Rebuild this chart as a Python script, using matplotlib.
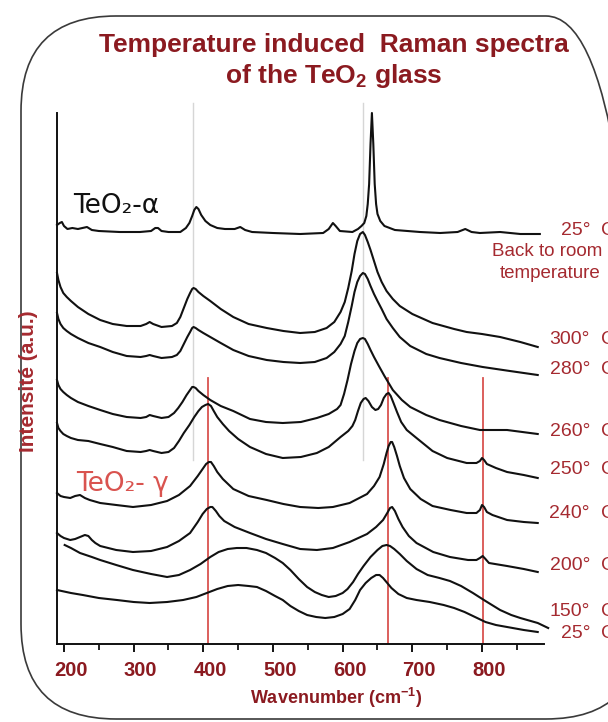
import matplotlib
matplotlib.use("Agg")
import matplotlib.pyplot as plt
from matplotlib.patches import FancyBboxPatch
from matplotlib.ticker import MultipleLocator
from matplotlib.transforms import IdentityTransform, ScaledTranslation

plt.rcParams["font.family"] = ["Liberation Sans", "DejaVu Sans"]
plt.rcParams["mathtext.fontset"] = "custom"
plt.rcParams["mathtext.rm"] = "Liberation Sans"
plt.rcParams["mathtext.bf"] = "Liberation Sans:bold"

# ---------------------------------------------------------------- data
# Raman spectra, stacked: wavenumber (cm-1) and intensity (a.u., offset included)
wn_25_back = [190, 194, 197, 200, 205, 212, 220, 233, 240, 250, 280, 309, 325, 331, 335, 340,
              350, 367, 375, 380, 384, 387, 390, 393, 397, 403, 410, 420, 431, 445, 453, 460,
              470, 500, 539, 572, 580, 586, 590, 596, 614, 622, 627, 631, 634, 636, 638, 640,
              642, 644, 646, 648, 650, 654, 660, 675, 711, 740, 765, 776, 785, 797, 826, 855,
              883]
int_25_back = [419, 421, 422, 418, 415, 416, 415, 417, 414, 413, 412, 412, 413, 416, 416, 413,
               412, 412, 416, 421, 428, 434, 437, 435, 429, 423, 419, 416, 415, 415, 417, 414,
               412, 411, 410, 411, 415, 421, 418, 413, 412, 415, 418, 421, 428, 440, 460, 500,
               531, 500, 460, 440, 430, 423, 418, 414, 412, 411, 412, 415, 412, 411, 412, 410,
               410]

wn_300 = [190, 192, 195, 199, 204, 210, 220, 235, 252, 270, 290, 310, 318, 323, 328, 340, 355,
          362, 367, 372, 377, 381, 384, 386, 389, 393, 400, 410, 425, 443, 465, 491, 515, 539,
          560, 577, 588, 597, 603, 608, 613, 617, 621, 625, 629, 632, 636, 640, 645, 650, 656,
          663, 672, 682, 700, 729, 760, 778, 800, 826, 855, 880]
int_300 = [371, 364, 357, 351, 347, 343, 337, 330, 324, 320, 318, 318, 320, 322, 320, 317, 318,
           321, 327, 336, 345, 351, 355, 356, 355, 352, 348, 343, 335, 327, 320, 316, 313, 311,
           312, 316, 322, 332, 342, 356, 373, 390, 403, 410, 412, 409, 402, 394, 383, 372, 362,
           353, 345, 338, 330, 321, 315, 312, 310, 307, 302, 297]

wn_280 = [190, 192, 195, 199, 204, 210, 220, 235, 252, 270, 290, 310, 318, 323, 328, 340, 355,
          362, 367, 372, 377, 381, 384, 386, 389, 393, 400, 410, 425, 443, 465, 491, 515, 539,
          560, 577, 588, 597, 603, 608, 613, 617, 621, 625, 629, 632, 636, 640, 645, 650, 656,
          663, 672, 682, 697, 720, 739, 770, 801, 840, 880]
int_280 = [331, 325, 320, 316, 313, 310, 306, 301, 297, 292, 288, 287, 288, 289, 288, 286, 287,
           289, 293, 300, 307, 312, 316, 317, 316, 314, 311, 307, 301, 294, 288, 284, 282, 281,
           282, 286, 292, 300, 308, 322, 338, 352, 362, 368, 371, 370, 365, 358, 350, 343, 335,
           325, 316, 307, 298, 290, 286, 281, 277, 273, 269]

wn_260 = [190, 192, 195, 199, 204, 210, 220, 235, 252, 270, 290, 310, 318, 323, 328, 340, 350,
          358, 364, 370, 376, 381, 384, 386, 389, 393, 400, 410, 425, 443, 467, 490, 514, 540,
          563, 580, 592, 597, 602, 607, 612, 617, 621, 625, 629, 632, 636, 640, 645, 652, 660,
          672, 685, 697, 720, 739, 770, 797, 836, 880]
int_260 = [264, 259, 255, 252, 249, 246, 242, 238, 234, 230, 227, 226, 227, 229, 228, 226, 227,
           231, 236, 242, 249, 254, 257, 257, 256, 253, 249, 244, 238, 233, 225, 222, 221, 222,
           226, 230, 235, 239, 250, 264, 280, 293, 301, 305, 306, 305, 300, 294, 287, 278, 268,
           254, 244, 237, 229, 224, 218, 214, 214, 210]

wn_250 = [190, 192, 195, 199, 204, 210, 220, 235, 252, 270, 290, 310, 318, 323, 328, 340, 350,
          358, 365, 372, 380, 387, 393, 398, 403, 407, 411, 415, 420, 428, 437, 450, 467, 490,
          514, 540, 563, 580, 597, 608, 614, 618, 622, 626, 630, 633, 637, 642, 647, 651, 655,
          659, 663, 666, 669, 673, 678, 684, 692, 706, 729, 750, 778, 792, 797, 800, 803, 807,
          820, 836, 860, 880]
int_250 = [221, 216, 213, 210, 208, 206, 204, 203, 200, 197, 193, 192, 193, 194, 193, 191, 192,
           196, 203, 211, 219, 227, 233, 237, 239, 240, 238, 233, 227, 220, 213, 205, 197, 190,
           186, 187, 191, 197, 207, 213, 218, 224, 233, 241, 245, 246, 243, 237, 234, 235, 239,
           246, 250, 251, 248, 241, 232, 222, 214, 206, 193, 186, 181, 181, 183, 186, 184, 180,
           176, 172, 169, 166]

wn_240 = [190, 195, 200, 209, 216, 223, 230, 237, 252, 275, 299, 325, 348, 365, 381, 392, 399,
          404, 408, 411, 415, 420, 428, 443, 465, 491, 515, 539, 565, 586, 610, 635, 645, 653,
          659, 663, 666, 669, 671, 674, 678, 682, 688, 697, 712, 729, 755, 778, 792, 797, 800,
          803, 807, 815, 836, 860, 880]
int_240 = [151, 148, 147, 146, 148, 149, 146, 144, 141, 139, 137, 139, 143, 149, 158, 168, 175,
           180, 182, 182, 178, 172, 165, 155, 148, 144, 140, 137, 136, 137, 141, 150, 158, 167,
           180, 191, 198, 202, 202, 197, 188, 178, 166, 155, 145, 138, 134, 131, 131, 134, 139,
           137, 132, 129, 124, 122, 121]

wn_200 = [190, 195, 200, 209, 216, 223, 230, 235, 240, 245, 252, 275, 299, 325, 348, 365, 381,
          392, 399, 405, 410, 413, 418, 423, 430, 445, 467, 490, 514, 539, 563, 586, 610, 635,
          648, 658, 664, 668, 671, 675, 680, 686, 695, 706, 730, 754, 780, 792, 797, 801, 805,
          810, 836, 860, 880]
int_200 = [111, 108, 106, 104, 105, 107, 109, 108, 104, 101, 98, 94, 92, 93, 97, 103, 111,
           122, 130, 135, 137, 137, 133, 128, 123, 117, 111, 105, 100, 95, 94, 96, 102, 110,
           117, 124, 131, 136, 137, 133, 125, 117, 108, 101, 92, 87, 84, 84, 86, 88, 85,
           81, 78, 75, 72]

wn_150 = [201, 210, 223, 240, 252, 275, 299, 325, 348, 365, 381, 396, 410, 422, 435, 448, 462,
          477, 490, 503, 514, 525, 537, 549, 560, 570, 580, 590, 600, 607, 615, 622, 630, 640,
          650, 657, 663, 668, 674, 682, 692, 706, 722, 739, 754, 770, 787, 805, 826, 842, 855,
          870, 880, 895]
int_150 = [99, 96, 91, 87, 84, 79, 74, 70, 67, 69, 74, 80, 87, 92, 95, 96, 96, 94, 91, 86, 81,
           74, 65, 57, 52, 49, 47, 48, 51, 55, 62, 70, 78, 87, 94, 98, 99, 98, 95, 90, 83, 75,
           69, 66, 63, 58, 51, 43, 34, 29, 26, 23, 21, 16]

wn_25 = [190, 210, 227, 250, 276, 300, 323, 348, 371, 390, 405, 420, 435, 450, 465, 477, 490,
         503, 514, 525, 537, 549, 562, 575, 588, 600, 610, 618, 625, 633, 641, 648, 653, 658,
         664, 670, 680, 692, 706, 725, 745, 760, 775, 790, 805, 820, 836, 860, 880]
int_25 = [54, 51, 49, 46, 44, 42, 41, 42, 44, 47, 51, 55, 58, 59, 58, 57, 53, 48, 44, 38, 33,
          29, 27, 26, 27, 30, 35, 44, 54, 61, 66, 69, 69, 66, 61, 56, 50, 46, 44, 42, 39, 36,
          32, 27, 22, 19, 17, 14, 12]

temperature_labels = ["25°", "300°", "280°", "260°", "250°", "240°", "200°", "150°", "25°"]

alpha_lines = [385, 629]          # TeO2-alpha band positions (cm-1)
gamma_lines = [407, 665, 802]     # TeO2-gamma band positions (cm-1)

x_ticks = [200, 300, 400, 500, 600, 700, 800]

# ---------------------------------------------------------------- layout
W, H, DPI = 608, 722, 100
DARK_RED = "#8b1a20"
TEXT_RED = "#a52a30"
GAMMA_RED = "#d9534f"


def fx(px):
    return px / W


def fy(py):
    return 1 - py / H


fig = plt.figure(figsize=(W / DPI, H / DPI), dpi=DPI)
fig.patch.set_facecolor("white")

# rounded outer frame (pixel coordinates, origin bottom-left); right side runs off the page
frame = FancyBboxPatch((21, 3), 620, 703, boxstyle="round,pad=0,rounding_size=95",
                       transform=IdentityTransform(), fill=False, edgecolor="#3a3a3a",
                       linewidth=1.2)
fig.add_artist(frame)

ax_left, ax_right, ax_top, ax_bottom = 56.8, 544, 113, 644
ax = fig.add_axes([fx(ax_left), fy(ax_bottom), fx(ax_right - ax_left),
                   (ax_bottom - ax_top) / H])
ax.set_xlim(189.7, 889)
ax.set_ylim(0, 531)
ax.patch.set_alpha(0)

for s in ("top", "right"):
    ax.spines[s].set_visible(False)
for s in ("left", "bottom"):
    ax.spines[s].set_linewidth(1.4)
    ax.spines[s].set_color("#111111")

# reference band positions
for x in alpha_lines:
    ax.plot([x, x], [184, 541], color="#d6d6d6", lw=1.0, zorder=1, clip_on=False)
for x in gamma_lines:
    ax.plot([x, x], [0, 266], color=GAMMA_RED, lw=1.3, zorder=1)

spectra = [(wn_25_back, int_25_back), (wn_300, int_300), (wn_280, int_280),
           (wn_260, int_260), (wn_250, int_250), (wn_240, int_240),
           (wn_200, int_200), (wn_150, int_150), (wn_25, int_25)]
for wn, inten in spectra:
    ax.plot(wn, inten, color="#111111", lw=1.5, zorder=3, clip_on=False,
            solid_joinstyle="round")

ax.set_xticks(x_ticks)
ax.xaxis.set_minor_locator(MultipleLocator(50))
ax.set_yticks([])
ax.tick_params(axis="x", which="major", direction="out", length=6, width=1.3,
               pad=6, labelsize=14.5, labelcolor=DARK_RED)
ax.tick_params(axis="x", which="minor", direction="out", length=4, width=1.2)
shift = ScaledTranslation(0.07, 0, fig.dpi_scale_trans)
for lbl in ax.get_xticklabels():
    lbl.set_fontweight("bold")
    lbl.set_transform(lbl.get_transform() + shift)

# axis titles
fig.text(fx(336), fy(698), r"Wavenumber (cm$^{\mathbf{-1}}$)", ha="center", va="center",
         fontsize=13, fontweight="bold", color=DARK_RED)
fig.text(fx(29), fy(381), "Intensité (a.u.)", ha="center", va="center", rotation=90,
         fontsize=15, fontweight="bold", color=TEXT_RED)

# title
fig.text(fx(334), fy(45), "Temperature induced  Raman spectra", ha="center", va="center",
         fontsize=19, fontweight="bold", color=DARK_RED)
fig.text(fx(334), fy(76), r"of the TeO$_\mathbf{2}$ glass", ha="center", va="center",
         fontsize=19, fontweight="bold", color=DARK_RED)

# phase labels
fig.text(fx(73), fy(206), "TeO₂-α", ha="left", va="center", fontsize=19,
         color="#111111", family=["DejaVu Sans"])
fig.text(fx(76), fy(484), "TeO₂- γ", ha="left", va="center", fontsize=19,
         color=GAMMA_RED, family=["DejaVu Sans"])

# temperature labels at the right end of each spectrum
label_y = [230, 340, 370, 431, 470, 513, 566, 612, 633]
for text, py in zip(temperature_labels, label_y):
    fig.text(fx(590), fy(py), text, ha="right", va="center", fontsize=14, color=TEXT_RED)
    fig.text(fx(601), fy(py), "C", ha="left", va="center", fontsize=14, color=TEXT_RED)
fig.text(fx(492), fy(252), "Back to room", ha="left", va="center", fontsize=13.5,
         color=TEXT_RED)
fig.text(fx(500), fy(273), "temperature", ha="left", va="center", fontsize=13.5,
         color=TEXT_RED)

fig.savefig("out.png", dpi=DPI)
